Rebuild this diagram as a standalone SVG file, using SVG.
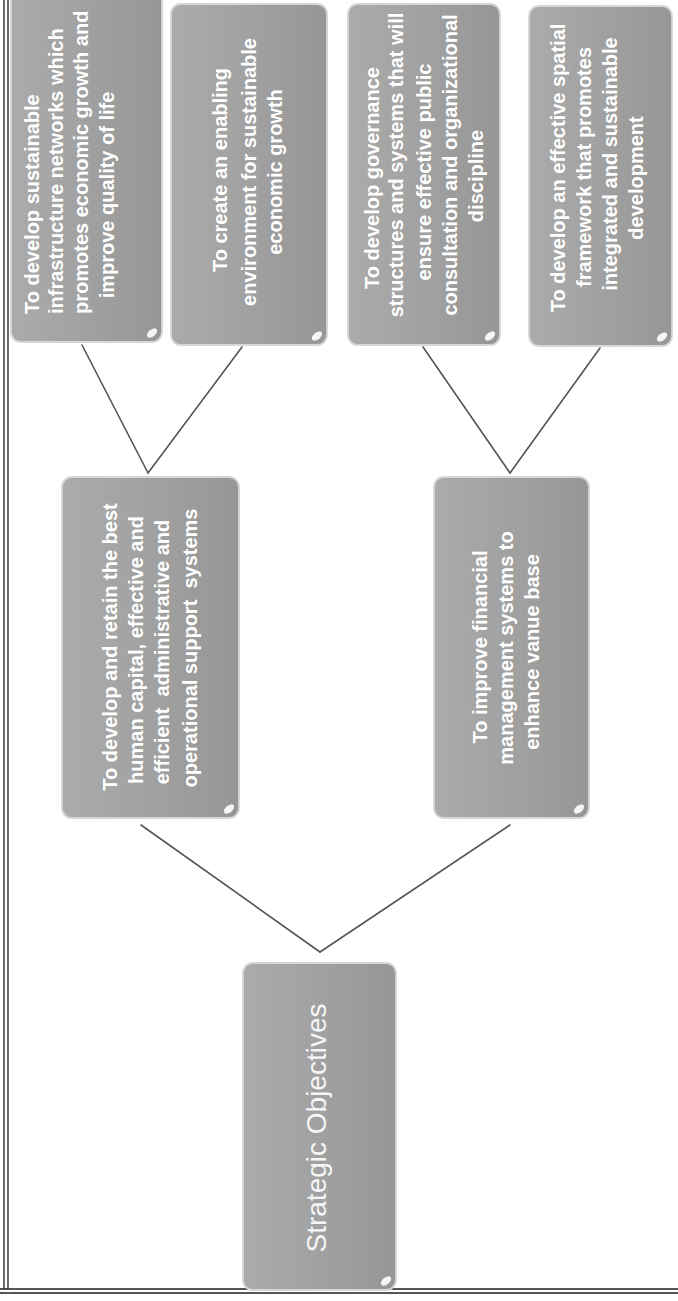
<svg xmlns="http://www.w3.org/2000/svg" width="678" height="1301" viewBox="0 0 678 1301">
<style>
.box{fill:url(#boxfill);stroke:#d6d6d6;stroke-width:1.8}
.hl{fill:#ffffff;opacity:0.9}
.t{font-family:"Liberation Sans",Arial,sans-serif;font-weight:bold;font-size:20px;fill:#ffffff;text-anchor:middle}
.s{text-anchor:start}
.tr{font-family:"Liberation Sans",Arial,sans-serif;font-weight:normal;font-size:28px;fill:#f6f6f6;text-anchor:middle}
.c{stroke:#555555;stroke-width:1.6;fill:none;stroke-linecap:round}
.frame{stroke:#1e1e1e;stroke-width:1.3;fill:none}
</style>
<defs>
<linearGradient id="boxfill" x1="0" y1="0" x2="1" y2="0">
<stop offset="0" stop-color="#ababab"/>
<stop offset="0.5" stop-color="#a1a1a1"/>
<stop offset="1" stop-color="#969696"/>
</linearGradient>
</defs>
<rect x="0" y="0" width="678" height="1301" fill="#ffffff"/>
<g id="frame">
<line class="frame" x1="4" y1="0" x2="4" y2="1289"/>
<line class="frame" x1="8" y1="0" x2="8" y2="1289"/>
<line class="frame" x1="0" y1="1289" x2="678" y2="1289"/>
<line class="frame" x1="0" y1="1293" x2="678" y2="1293"/>
</g>
<g id="connectors">
<line class="c" x1="82" y1="345" x2="148" y2="473"/>
<line class="c" x1="242" y1="347" x2="148" y2="473"/>
<line class="c" x1="423" y1="347" x2="510" y2="473"/>
<line class="c" x1="600" y1="348" x2="510" y2="473"/>
<line class="c" x1="141" y1="825" x2="320" y2="952"/>
<line class="c" x1="510" y1="825" x2="320" y2="952"/>
</g>
<g id="node-infrastructure">
<rect class="box" x="11" y="-20" width="151" height="362" rx="10"/>
<ellipse class="hl" cx="152" cy="333" rx="6" ry="3.5" transform="rotate(-40 152 333)"/>
<text class="t s" transform="translate(39,314) rotate(-90)">To develop sustainable</text>
<text class="t s" transform="translate(63,314) rotate(-90)">infrastructure networks which</text>
<text class="t s" transform="translate(88,314) rotate(-90)">promotes economic growth and</text>
<text class="t" transform="translate(114,195) rotate(-90)">improve quality of life</text>
</g>
<g id="node-environment">
<rect class="box" x="171" y="4" width="156" height="341" rx="10"/>
<ellipse class="hl" cx="317" cy="336" rx="6" ry="3.5" transform="rotate(-40 317 336)"/>
<text class="t" transform="translate(227,170) rotate(-90)">To create an enabling</text>
<text class="t" transform="translate(256,172) rotate(-90)">environment for sustainable</text>
<text class="t" transform="translate(282,172) rotate(-90)">economic growth</text>
</g>
<g id="node-governance">
<rect class="box" x="348" y="4" width="152" height="341" rx="10"/>
<ellipse class="hl" cx="490" cy="336" rx="6" ry="3.5" transform="rotate(-40 490 336)"/>
<text class="t" transform="translate(379,178) rotate(-90)">To develop governance</text>
<text class="t" transform="translate(403,165) rotate(-90)">structures and systems that will</text>
<text class="t" transform="translate(431,172) rotate(-90)">ensure effective public</text>
<text class="t" transform="translate(457,165) rotate(-90)">consultation and organizational</text>
<text class="t" transform="translate(483,176) rotate(-90)">discipline</text>
</g>
<g id="node-spatial">
<rect class="box" x="529" y="6" width="143" height="340" rx="10"/>
<ellipse class="hl" cx="662" cy="337" rx="6" ry="3.5" transform="rotate(-40 662 337)"/>
<text class="t" transform="translate(565,168) rotate(-90)">To develop an effective spatial</text>
<text class="t" transform="translate(591,167) rotate(-90)">framework that promotes</text>
<text class="t" transform="translate(617,164) rotate(-90)">integrated and sustainable</text>
<text class="t" transform="translate(643,178) rotate(-90)">development</text>
</g>
<g id="node-human-capital">
<rect class="box" x="62" y="477" width="177" height="341" rx="10"/>
<ellipse class="hl" cx="229" cy="809" rx="6" ry="3.5" transform="rotate(-40 229 809)"/>
<text class="t" transform="translate(117,647) rotate(-90)">To develop and retain the best</text>
<text class="t" transform="translate(143,650) rotate(-90)">human capital, effective and</text>
<text class="t" xml:space="preserve" transform="translate(169,652) rotate(-90)">efficient  administrative and</text>
<text class="t" xml:space="preserve" transform="translate(197,648) rotate(-90)">operational support  systems</text>
</g>
<g id="node-financial">
<rect class="box" x="434" y="477" width="155" height="341" rx="10"/>
<ellipse class="hl" cx="579" cy="809" rx="6" ry="3.5" transform="rotate(-40 579 809)"/>
<text class="t" transform="translate(487,647) rotate(-90)">To improve financial</text>
<text class="t" transform="translate(513,648) rotate(-90)">management systems to</text>
<text class="t" transform="translate(539,652) rotate(-90)">enhance vanue base</text>
</g>
<g id="node-strategic">
<rect class="box" x="243" y="963" width="153" height="327" rx="10"/>
<ellipse class="hl" cx="386" cy="1281" rx="6" ry="3.5" transform="rotate(-40 386 1281)"/>
<text class="tr" transform="translate(326,1128) rotate(-90)">Strategic Objectives</text>
</g>
</svg>
